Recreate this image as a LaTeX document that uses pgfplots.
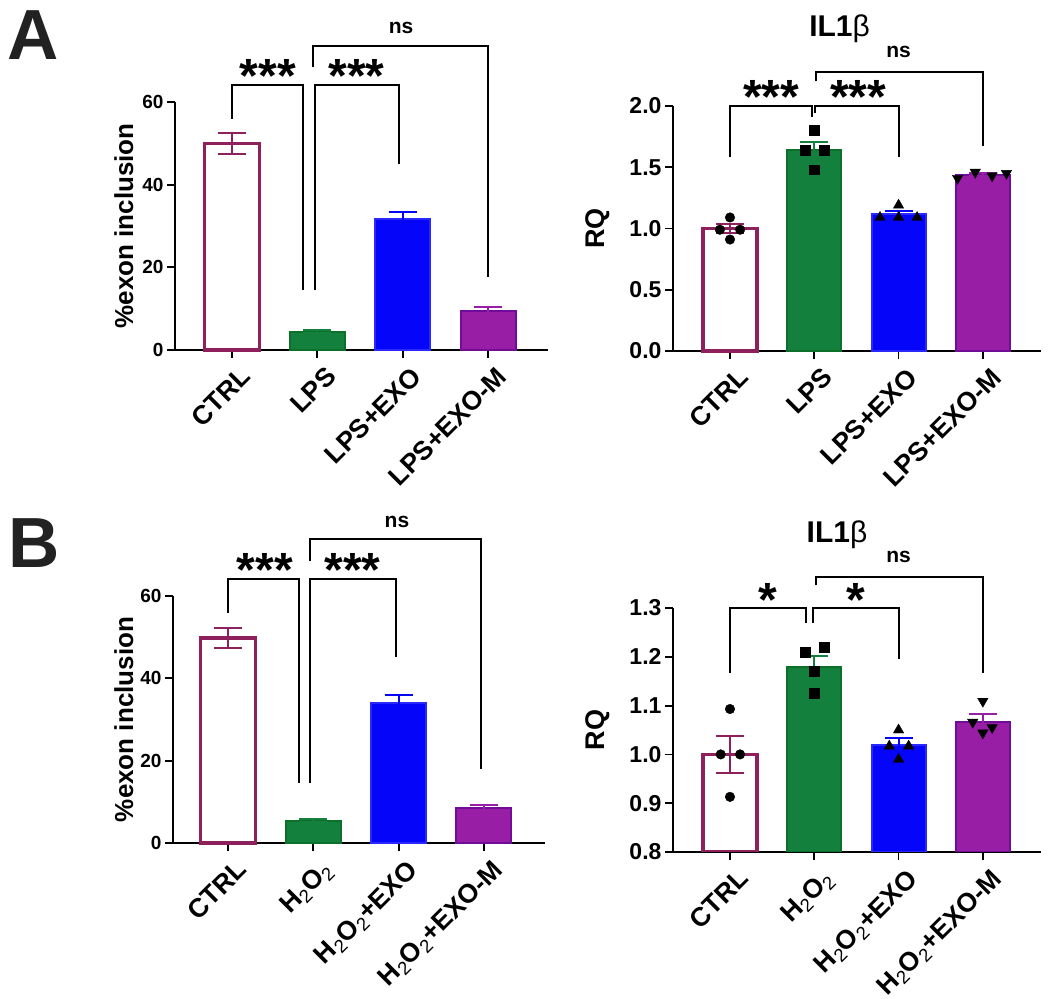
\documentclass[border=0pt]{standalone}
\usepackage{fontspec}
\setmainfont{Liberation Sans}
\usepackage{pgfplots}
\pgfplotsset{compat=1.18}

\definecolor{ctrl}{RGB}{142,32,94}
\definecolor{grn}{RGB}{20,128,62}
\definecolor{grnedge}{RGB}{12,112,40}
\definecolor{blu}{RGB}{5,5,250}
\definecolor{bluedge}{RGB}{40,40,255}
\definecolor{pur}{RGB}{152,30,166}
\definecolor{puredge}{RGB}{112,12,152}
\definecolor{letter}{RGB}{34,34,34}

\newcommand{\fs}[1]{\fontsize{#1}{#1}\selectfont}
\newcommand{\HO}{H\textsubscript{\mdseries 2}O\textsubscript{\mdseries 2}}

\pgfplotsset{
  gp/.style={
    scale only axis,
    axis lines*=left,
    axis line style={line width=1.8pt, black},
    enlargelimits=false,
    clip=false,
    tick align=outside,
    major tick length=8pt,
    tick style={line width=1.8pt, black},
    xtick={0,1,2,3},
    /pgf/number format/assume math mode=true,
    x tick label style={font=\bfseries\fs{26.5}, rotate=45, anchor=north east, inner sep=0pt, yshift=-10pt},
    ylabel style={font=\bfseries\fs{26}},
  },
  ann/.style={scale only axis, axis lines=none, clip=false, enlargelimits=false},
  br/.style={black, line width=2pt, mark=none},
  eb/.style={error bars/.cd, y dir=both, y explicit,
     error bar style={line width=2pt, color=#1},
     error mark options={rotate=90, mark size=14pt, line width=2pt, color=#1}},
}

\begin{document}
\begin{tikzpicture}
\useasboundingbox (0,0) rectangle (1050pt,999pt);

\node[font=\bfseries\fs{71}, text=letter, anchor=base west, inner sep=0pt] at (7pt,939pt) {A};
\node[font=\bfseries\fs{71}, text=letter, anchor=base west, inner sep=0pt] at (8pt,431pt) {B};

% ---------------- A left ----------------
\begin{axis}[gp, at={(175pt,649pt)}, anchor=south west, width=373pt, height=248pt,
  xmin=-0.667, xmax=3.70, ymin=0, ymax=60, ytick={0,20,40,60},
  y tick label style={font=\bfseries\fs{19}},
  xticklabels={CTRL,LPS,LPS+EXO,LPS+EXO-M},
  ylabel={\%exon inclusion}, ylabel style={at={(axis description cs:-0.137,0.5)}, anchor=center}]
\addplot[ybar, bar width=55pt, bar shift=0pt, draw=ctrl, fill=white, line width=3.5pt, eb=ctrl] coordinates {(0,50) +- (0,2.5)};
\addplot[ybar, bar width=55pt, bar shift=0pt, draw=grnedge, fill=grn, line width=2pt, eb=grn] coordinates {(1,4.4) +- (0,0.4)};
\addplot[ybar, bar width=55pt, bar shift=0pt, draw=bluedge, fill=blu, line width=2pt, eb=blu] coordinates {(2,31.7) +- (0,1.7)};
\addplot[ybar, bar width=55pt, bar shift=0pt, draw=puredge, fill=pur, line width=2pt, eb=pur] coordinates {(3,9.5) +- (0,0.85)};
\addplot[br] coordinates {(0,56) (0,64.1) (0.83,64.1) (0.83,14.5)};
\addplot[br] coordinates {(0.97,14.5) (0.97,64.1) (1.95,64.1) (1.95,45)};
\addplot[br] coordinates {(0.95,68.5) (0.95,73.5) (3,73.5) (3,17.7)};
\node[font=\bfseries\fs{48}, anchor=base] at (axis cs:0.42,62.2) {***};
\node[font=\bfseries\fs{48}, anchor=base] at (axis cs:1.46,62.2) {***};
\node[font=\bfseries\fs{21}] at (axis cs:1.98,77.9) {ns};
\end{axis}

% ---------------- A right ----------------
\begin{axis}[gp, at={(673pt,648pt)}, anchor=south west, width=368pt, height=245pt,
  xmin=-0.676, xmax=3.69, ymin=0, ymax=2, ytick={0,0.5,1,1.5,2},
  yticklabel style={font=\bfseries\fs{23}, /pgf/number format/.cd, fixed, fixed zerofill, precision=1},
  xticklabels={CTRL,LPS,LPS+EXO,LPS+EXO-M},
  ylabel={RQ}, ylabel style={font=\bfseries\fs{27}, at={(axis description cs:-0.204,0.5)}, anchor=center}]
\addplot[ybar, bar width=54pt, bar shift=0pt, draw=ctrl, fill=white, line width=3.5pt, eb=ctrl] coordinates {(0,1.0) +- (0,0.04)};
\addplot[ybar, bar width=54pt, bar shift=0pt, draw=grnedge, fill=grn, line width=2pt, eb=grn] coordinates {(1,1.64) +- (0,0.07)};
\addplot[ybar, bar width=54pt, bar shift=0pt, draw=bluedge, fill=blu, line width=2pt, eb=blu] coordinates {(2,1.12) +- (0,0.025)};
\addplot[ybar, bar width=54pt, bar shift=0pt, draw=puredge, fill=pur, line width=2pt, eb=pur] coordinates {(3,1.44) +- (0,0.012)};
\addplot[only marks, mark=*, black, mark size=4.8pt] coordinates {(0,1.09) (-0.12,0.99) (0.12,0.99) (0,0.91)};
\addplot[only marks, mark=square*, black, mark size=4.8pt] coordinates {(1,1.80) (0.89,1.64) (1.12,1.64) (1,1.48)};
\addplot[only marks, mark=triangle*, black, mark size=6pt] coordinates {(2,1.19) (1.78,1.09) (2,1.09) (2.22,1.09)};
\addplot[only marks, mark=triangle*, black, mark size=6pt, mark options={rotate=180}] coordinates {(2.70,1.41) (2.91,1.46) (3.11,1.43) (3.28,1.45)};
\addplot[br] coordinates {(0,1.58) (0,2.0) (0.97,2.0) (0.97,1.91)};
\addplot[br] coordinates {(1.01,1.94) (1.01,2.0) (2,2.0) (2,1.58)};
\addplot[br] coordinates {(1.02,2.20) (1.02,2.28) (3,2.28) (3,1.67)};
\node[font=\bfseries\fs{48}, anchor=base] at (axis cs:0.49,1.94) {***};
\node[font=\bfseries\fs{48}, anchor=base] at (axis cs:1.52,1.94) {***};
\node[font=\bfseries\fs{21}] at (axis cs:2.0,2.44) {ns};
\node[font=\bfseries\fs{30}] at (axis cs:1.30,2.63) {IL1{\mdseries β}};
\end{axis}

% ---------------- B left ----------------
\begin{axis}[gp, at={(173pt,156pt)}, anchor=south west, width=372pt, height=247pt,
  xmin=-0.645, xmax=3.715, ymin=0, ymax=60, ytick={0,20,40,60},
  y tick label style={font=\bfseries\fs{19}},
  xticklabels={CTRL,{\HO},{\HO+EXO},{\HO+EXO-M}},
  ylabel={\%exon inclusion}, ylabel style={at={(axis description cs:-0.132,0.5)}, anchor=center}]
\addplot[ybar, bar width=55pt, bar shift=0pt, draw=ctrl, fill=white, line width=3.5pt, eb=ctrl] coordinates {(0,49.8) +- (0,2.5)};
\addplot[ybar, bar width=55pt, bar shift=0pt, draw=grnedge, fill=grn, line width=2pt, eb=grn] coordinates {(1,5.4) +- (0,0.4)};
\addplot[ybar, bar width=55pt, bar shift=0pt, draw=bluedge, fill=blu, line width=2pt, eb=blu] coordinates {(2,34.0) +- (0,1.9)};
\addplot[ybar, bar width=55pt, bar shift=0pt, draw=puredge, fill=pur, line width=2pt, eb=pur] coordinates {(3,8.6) +- (0,0.7)};
\addplot[br] coordinates {(0,55.9) (0,64.1) (0.83,64.1) (0.83,14.6)};
\addplot[br] coordinates {(0.96,14.6) (0.96,64.1) (1.97,64.1) (1.97,45.2)};
\addplot[br] coordinates {(0.96,68.5) (0.96,73.8) (2.96,73.8) (2.96,18)};
\node[font=\bfseries\fs{48}, anchor=base] at (axis cs:0.43,62.2) {***};
\node[font=\bfseries\fs{48}, anchor=base] at (axis cs:1.46,62.2) {***};
\node[font=\bfseries\fs{21}] at (axis cs:1.98,78.0) {ns};
\end{axis}

% ---------------- B right ----------------
\begin{axis}[gp, clip=true, at={(673pt,147pt)}, anchor=south west, width=368pt, height=244pt,
  xmin=-0.676, xmax=3.69, ymin=0.8, ymax=1.3, ytick={0.8,0.9,1.0,1.1,1.2,1.3},
  yticklabel style={font=\bfseries\fs{23}, /pgf/number format/.cd, fixed, fixed zerofill, precision=1},
  xticklabels={CTRL,{\HO},{\HO+EXO},{\HO+EXO-M}},
  ylabel={RQ}, ylabel style={font=\bfseries\fs{27}, at={(axis description cs:-0.204,0.5)}, anchor=center}]
\addplot[ybar, bar width=54pt, bar shift=0pt, draw=ctrl, fill=white, line width=3.5pt, eb=ctrl] coordinates {(0,1.0) +- (0,0.038)};
\addplot[ybar, bar width=54pt, bar shift=0pt, draw=grnedge, fill=grn, line width=2pt, eb=grn] coordinates {(1,1.18) +- (0,0.022)};
\addplot[ybar, bar width=54pt, bar shift=0pt, draw=bluedge, fill=blu, line width=2pt, eb=blu] coordinates {(2,1.02) +- (0,0.013)};
\addplot[ybar, bar width=54pt, bar shift=0pt, draw=puredge, fill=pur, line width=2pt, eb=pur] coordinates {(3,1.067) +- (0,0.016)};
\addplot[only marks, mark=*, black, mark size=4.8pt] coordinates {(0,1.093) (-0.11,1.0) (0.12,1.0) (0,0.913)};
\addplot[only marks, mark=square*, black, mark size=4.8pt] coordinates {(0.89,1.21) (1.12,1.22) (1,1.17) (1,1.126)};
\addplot[only marks, mark=triangle*, black, mark size=6pt] coordinates {(2,1.05) (1.89,1.017) (2.12,1.017) (2,0.99)};
\addplot[only marks, mark=triangle*, black, mark size=6pt, mark options={rotate=180}] coordinates {(3,1.109) (2.88,1.066) (3.11,1.055) (3,1.044)};
\end{axis}
\begin{axis}[ann, at={(673pt,147pt)}, anchor=south west, width=368pt, height=244pt,
  xmin=-0.676, xmax=3.69, ymin=0.8, ymax=1.3]
\addplot[br] coordinates {(0,1.167) (0,1.30) (0.90,1.30) (0.90,1.27)};
\addplot[br] coordinates {(0.98,1.27) (0.98,1.30) (2,1.30) (2,1.195)};
\addplot[br] coordinates {(1.02,1.347) (1.02,1.364) (3,1.364) (3,1.167)};
\node[font=\bfseries\fs{48}, anchor=base] at (axis cs:0.45,1.283) {*};
\node[font=\bfseries\fs{48}, anchor=base] at (axis cs:1.49,1.283) {*};
\node[font=\bfseries\fs{21}] at (axis cs:2.0,1.405) {ns};
\node[font=\bfseries\fs{30}] at (axis cs:1.27,1.450) {IL1{\mdseries β}};
\end{axis}
\end{tikzpicture}
\end{document}
